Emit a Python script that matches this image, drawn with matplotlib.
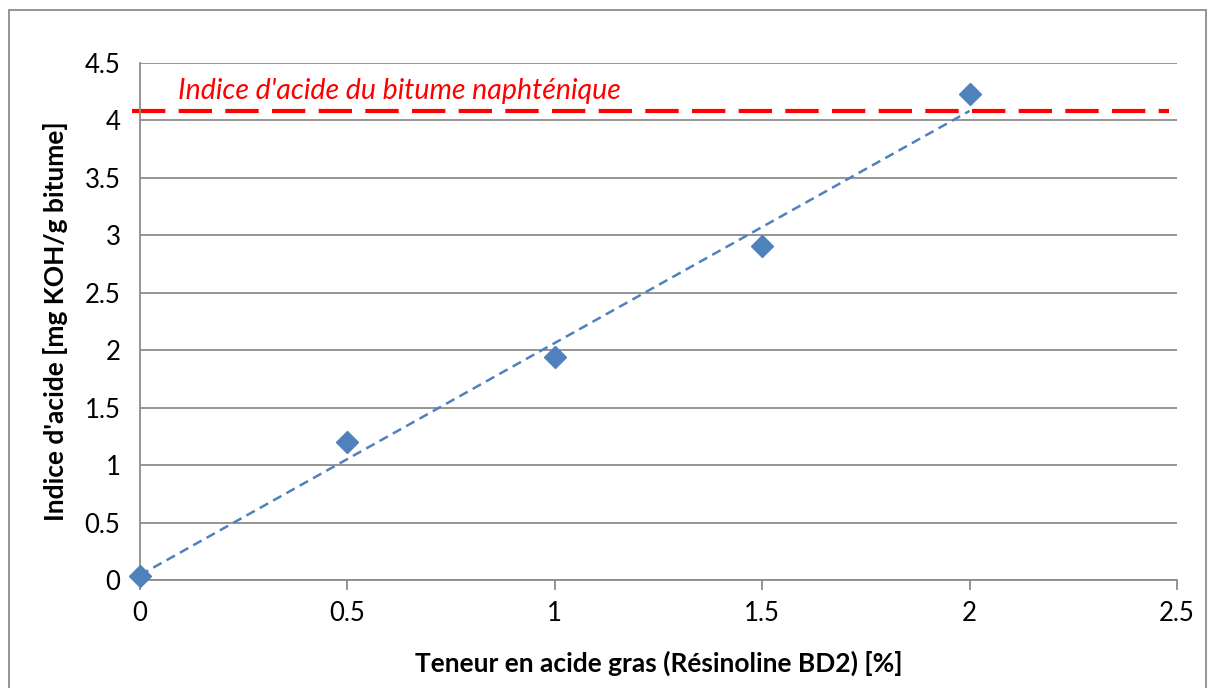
import numpy as np
import matplotlib
matplotlib.use("Agg")
import matplotlib.pyplot as plt
from matplotlib.patches import Rectangle

# data
teneur = [0, 0.5, 1, 1.5, 2]
indice = [0.035, 1.20, 1.94, 2.91, 4.23]
ref_value = 4.08          # indice d'acide du bitume naphténique
ref_x = [-0.02, 2.48]
x_ticks = [0, 0.5, 1, 1.5, 2, 2.5]
y_ticks = [0, 0.5, 1, 1.5, 2, 2.5, 3, 3.5, 4, 4.5]

plt.rcParams["font.family"] = ["Lato", "DejaVu Sans"]

W, H = 1214, 688
fig = plt.figure(figsize=(W / 100, H / 100), dpi=100)
ax = fig.add_axes([140 / W, 1 - 580 / H, (1177 - 140) / W, (580 - 63) / H])

grid_c = "#8c8c8c"
blue = "#4f81bd"

ax.set_xlim(0, 2.5)
ax.set_ylim(0, 4.5)
ax.set_xticks(x_ticks)
ax.set_yticks(y_ticks)
ax.set_xticklabels([f"{v:g}" for v in x_ticks])
ax.set_yticklabels([f"{v:g}" for v in y_ticks])
ax.yaxis.grid(True, color=grid_c, lw=1.3)
ax.set_axisbelow(True)
for s in ("top", "right"):
    ax.spines[s].set_visible(False)
for s in ("left", "bottom"):
    ax.spines[s].set_color(grid_c)
    ax.spines[s].set_linewidth(1.3)
ax.tick_params(axis="x", colors=grid_c, length=7, width=1.3, labelcolor="black",
               labelsize=18.5, pad=8)
ax.tick_params(axis="y", length=0, labelcolor="black", labelsize=18.5, pad=14)

# linear trendline
slope, icpt = np.polyfit(teneur, indice, 1)
tx = np.array([teneur[0], teneur[-1]])
ax.plot(tx, slope * tx + icpt, color=blue, lw=1.8, ls=(0, (3.8, 2.3)), zorder=3)

ax.plot(teneur, indice, ls="none", marker="D", ms=11, color=blue,
        markeredgecolor=blue, clip_on=False, zorder=4)

# reference line
ax.plot(ref_x, [ref_value, ref_value], color="#ff0000", lw=3,
        ls=(0, (8, 3.2)), clip_on=False, zorder=2)
ax.text(0.092, ref_value + 0.11, "Indice d'acide du bitume naphténique",
        color="#ff0000", style="italic", fontsize=20.5, va="baseline", ha="left")

ax.set_xlabel("Teneur en acide gras (Résinoline BD2) [%]", fontsize=19,
              fontweight="bold", labelpad=18)
ax.set_ylabel("Indice d'acide [mg KOH/g bitume]", fontsize=19,
              fontweight="bold", labelpad=12)

# chart area border
fig.patches.append(Rectangle((9 / W, -0.05), (1206 - 9) / W, 1.05 - 10 / H,
                             transform=fig.transFigure, fill=False,
                             edgecolor=grid_c, lw=1.3))

fig.savefig("out.png", dpi=100)
